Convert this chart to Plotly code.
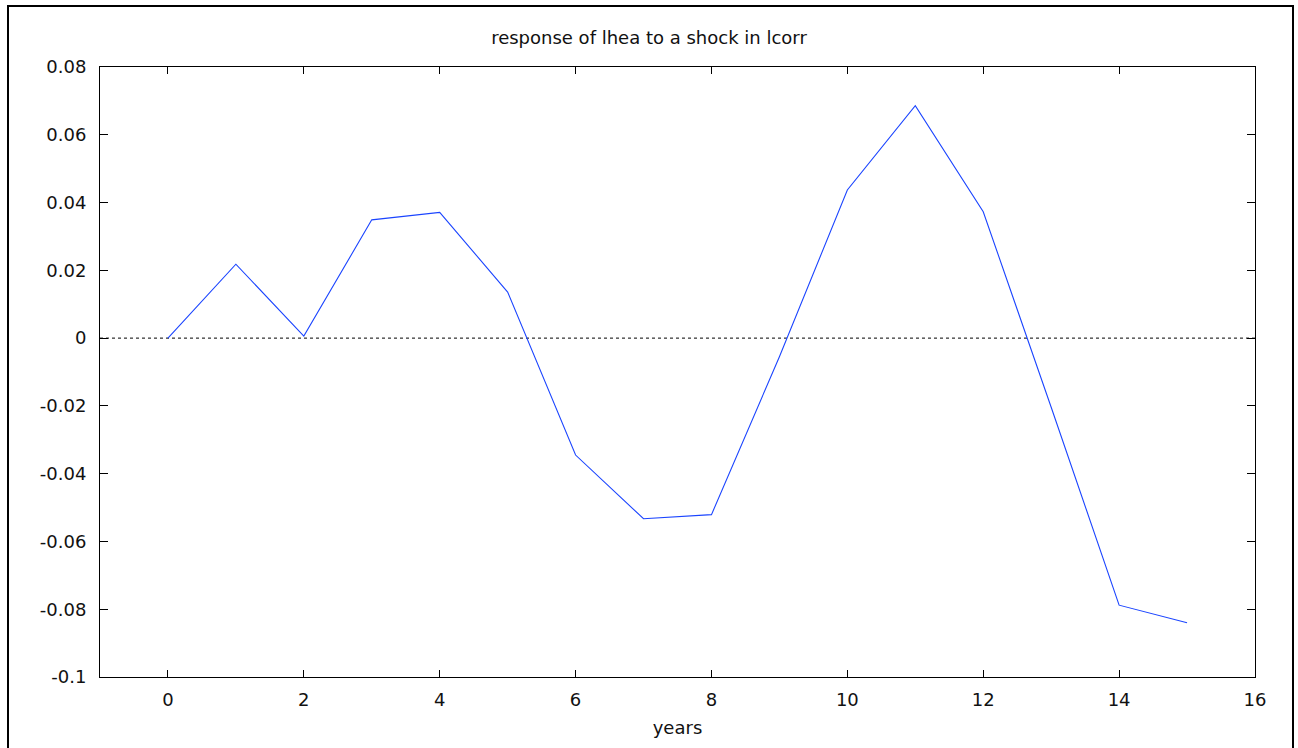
import plotly.graph_objects as go

years = list(range(16))
response = [0.0, 0.0218, 0.0006, 0.0349, 0.0371, 0.0136, -0.0345, -0.0533,
            -0.0521, -0.0055, 0.0437, 0.0686, 0.0373, -0.0204, -0.0788, -0.0840]

x_ticks = [0, 2, 4, 6, 8, 10, 12, 14, 16]
y_ticks = [0.08, 0.06, 0.04, 0.02, 0.0, -0.02, -0.04, -0.06, -0.08, -0.1]
y_tick_labels = ["0.08", "0.06", "0.04", "0.02", "0", "-0.02", "-0.04", "-0.06", "-0.08", "-0.1"]

title_text = "response of lhea to a shock in lcorr"
x_title = "years"

FONT = "DejaVu Sans"
FS = 18

fig = go.Figure()
fig.add_trace(go.Scatter(x=years, y=response, mode="lines",
                         line=dict(color="#1a44ff", width=1.1),
                         showlegend=False, hoverinfo="skip"))

# dotted zero line
fig.add_shape(type="line", xref="x", yref="y", x0=-1, x1=16, y0=0, y1=0,
              line=dict(color="black", width=1, dash="dot"), layer="below")

# outer frame
L, R, T, B = 100, 43, 67, 71
W, H = 1298, 748
pw, ph = W - L - R, H - T - B
fig.add_shape(type="rect", xref="paper", yref="paper",
              x0=(8 - L) / pw, x1=(1293 - L) / pw,
              y0=(H - B - 760) / ph, y1=(H - B - 6) / ph,
              line=dict(color="black", width=2), fillcolor="rgba(0,0,0,0)")

fig.update_layout(
    width=W, height=H,
    margin=dict(l=L, r=R, t=T, b=B, pad=0),
    paper_bgcolor="white", plot_bgcolor="white",
    font=dict(family=FONT, size=FS, color="#111"),
    title=dict(text=title_text, x=0.5, xanchor="center", y=1 - 38 / H, yanchor="middle",
               font=dict(family=FONT, size=FS, color="#111")),
    xaxis=dict(range=[-1, 16], tickvals=x_ticks, ticktext=[str(v) for v in x_ticks],
               ticks="inside", ticklen=7, tickcolor="black", tickwidth=1,
               showline=True, linecolor="black", linewidth=1, mirror="ticks",
               showgrid=False, zeroline=False, ticklabelstandoff=6,
               title=dict(text=x_title, standoff=12, font=dict(family=FONT, size=FS)),
               tickfont=dict(family=FONT, size=FS)),
    yaxis=dict(range=[-0.1, 0.08], tickvals=y_ticks, ticktext=y_tick_labels,
               ticks="inside", ticklen=8, tickcolor="black", tickwidth=1,
               showline=True, linecolor="black", linewidth=1, mirror="ticks",
               showgrid=False, zeroline=False, ticklabelstandoff=9,
               tickfont=dict(family=FONT, size=FS)),
)

fig.write_html("out.html")
